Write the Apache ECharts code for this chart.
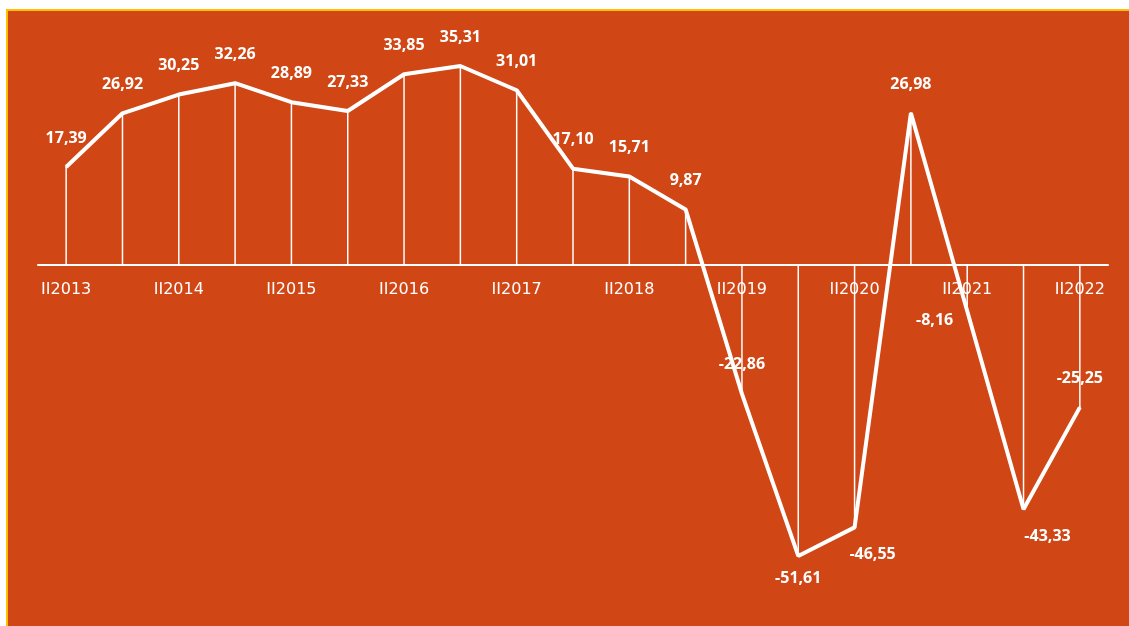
<!DOCTYPE html>
<html>
<head>
<meta charset="utf-8">
<script src="https://cdn.jsdelivr.net/npm/echarts@6/dist/echarts.min.js"></script>
<style>
  html, body { margin: 0; padding: 0; background: #ffffff; width: 1129px; height: 626px; overflow: hidden; }
  #bg { position: absolute; left: 6px; top: 9px; width: 1140px; height: 640px; box-sizing: border-box;
        border-left: 2px solid #FFC000; border-top: 2px solid #FFC000; background: #D14615; }
  #chart { position: absolute; left: 0; top: 0; width: 1129px; height: 626px; }
</style>
</head>
<body>
<div id="bg"></div>
<div id="chart"></div>
<script>
const categories = ['II2013','I2014','II2014','I2015','II2015','I2016','II2016','I2017','II2017','I2018','II2018',
                    'I2019','II2019','I2020','II2020','I2021','II2021','I2022','II2022'];
const values = [17.39, 26.92, 30.25, 32.26, 28.89, 27.33, 33.85, 35.31, 31.01, 17.10, 15.71,
                9.87, -22.86, -51.61, -46.55, 26.98, -8.16, -43.33, -25.25];

const fmt = v => v.toFixed(2).replace('.', ',');

// per-point label placement (styling only)
const labelPlacement = {
  13: { position: 'bottom', distance: 14 },
  14: { position: 'bottom', distance: 18, offset: [18, 0] },
  16: { position: 'left', distance: 13, offset: [0, 9] },
  17: { position: 'bottom', distance: 18, offset: [24, 0] }
};

const lineData = values.map((v, i) => {
  const item = { value: v };
  if (labelPlacement[i]) item.label = labelPlacement[i];
  return item;
});

const yMin = -60, yMax = 40;
const gridTop = 39.6, gridBottom = 22.8;
const plotH = 626 - gridTop - gridBottom;
const zeroFromBottom = plotH * (0 - yMin) / (yMax - yMin);

const chart = echarts.init(document.getElementById('chart'), null, { renderer: 'canvas' });
chart.setOption({
  backgroundColor: 'transparent',
  animation: false,
  grid: { left: 38, width: 1070, top: gridTop, bottom: gridBottom, containLabel: false, outerBoundsMode: 'none' },
  xAxis: {
    type: 'category',
    data: categories,
    boundaryGap: true,
    position: 'bottom',
    offset: -zeroFromBottom,
    axisLine: { show: true, onZero: false, lineStyle: { color: '#ffffff', width: 2 } },
    axisTick: { show: false },
    axisLabel: {
      interval: 1,
      color: '#ffffff',
      fontFamily: 'DejaVu Sans',
      fontWeight: 'normal',
      fontSize: 16,
      margin: 17
    },
    splitLine: { show: false }
  },
  yAxis: {
    type: 'value',
    min: yMin,
    max: yMax,
    show: false,
    splitLine: { show: false }
  },
  series: [
    {
      type: 'bar',
      data: values,
      barWidth: 1.5,
      itemStyle: { color: '#ffffff' },
      z: 2
    },
    {
      type: 'line',
      data: lineData,
      symbol: 'circle',
      symbolSize: 2,
      itemStyle: { color: '#ffffff' },
      lineStyle: { color: '#ffffff', width: 4 },
      z: 3,
      label: {
        show: true,
        position: 'top',
        distance: 20,
        color: '#ffffff',
        fontFamily: 'Open Sans',
        fontWeight: 'bold',
        fontSize: 16,
        formatter: p => fmt(p.value)
      }
    }
  ]
});
</script>
</body>
</html>
